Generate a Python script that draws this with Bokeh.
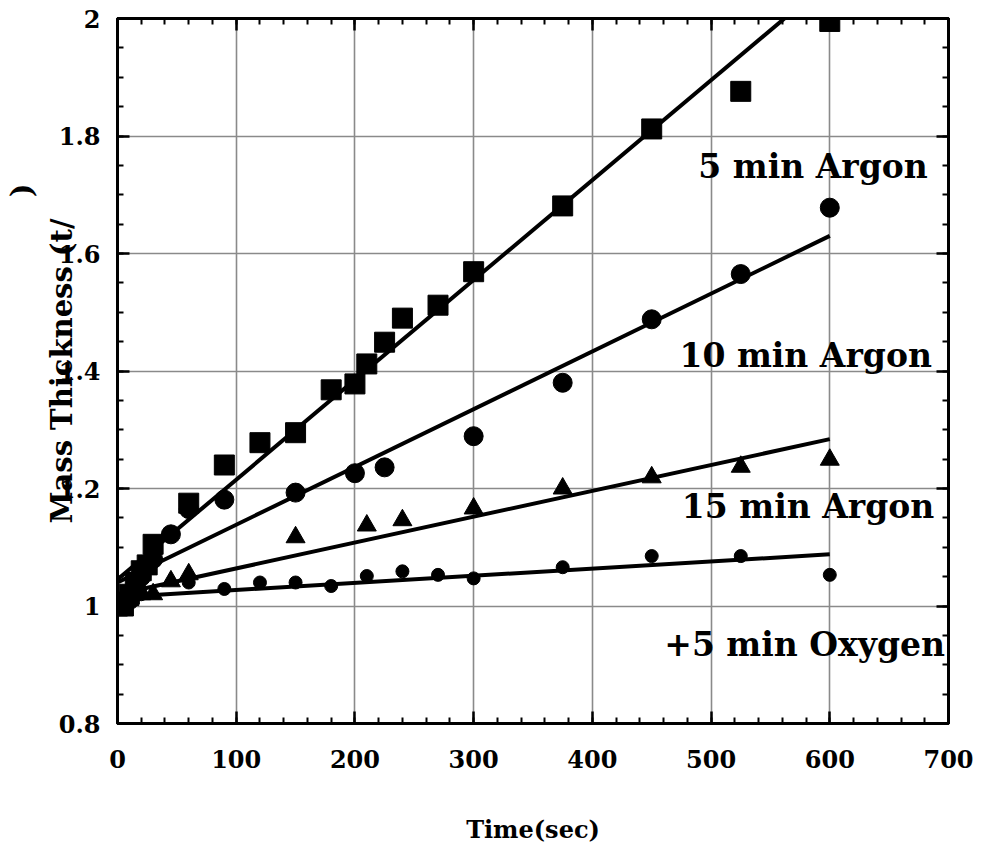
from bokeh.plotting import figure
from bokeh.models import (Range1d, LinearAxis, SingleIntervalTicker, Label, Title,
                          CustomJSTickFormatter)
from bokeh.embed import file_html
from bokeh.resources import INLINE

# ---------------- data ----------------
ar5_x = [0, 5, 10, 15, 20, 25, 30, 60, 90, 120, 150, 180, 200, 210, 225, 240, 270, 300, 375, 450, 525, 600]
ar5_y = [1.0, 1.0, 1.02, 1.04, 1.06, 1.07, 1.105, 1.175, 1.24, 1.278, 1.295, 1.368, 1.378, 1.412, 1.449,
         1.49, 1.512, 1.569, 1.681, 1.812, 1.876, 1.995]

ar10_x = [0, 10, 15, 20, 30, 45, 60, 90, 150, 200, 225, 300, 375, 450, 525, 600]
ar10_y = [1.0, 1.01, 1.03, 1.05, 1.08, 1.122, 1.165, 1.181, 1.193, 1.226, 1.236, 1.289, 1.38, 1.488, 1.565, 1.678]

ar15_x = [0, 10, 20, 30, 45, 60, 150, 210, 240, 300, 375, 450, 525, 600]
ar15_y = [1.0, 1.01, 1.02, 1.02, 1.042, 1.054, 1.117, 1.137, 1.146, 1.166, 1.2, 1.219, 1.237, 1.249]

ox_x = [0, 10, 20, 60, 90, 120, 150, 180, 210, 240, 270, 300, 375, 450, 525, 600]
ox_y = [1.0, 1.01, 1.02, 1.04, 1.029, 1.04, 1.04, 1.034, 1.051, 1.059, 1.053, 1.047, 1.066, 1.085, 1.085, 1.053]

# straight fit lines: end points
fit_x = [0, 600]
fit_ar5 = [1.045, 2.065]
fit_ar10 = [1.04, 1.63]
fit_ar15 = [1.02, 1.284]
fit_ox = [1.015, 1.088]

labels = ["5 min Argon", "10 min Argon", "15 min Argon", "+5 min Oxygen"]
label_x = [682.5, 686, 688, 697]
label_y = [1.729, 1.408, 1.151, 0.915]

x_title = "Time(sec)"
y_title = "Mass Thickness (t/"
y_title_close = ")"

FONT = "DejaVu Serif"

p = figure(width=975, height=846, output_backend="svg", toolbar_location=None,
           x_range=Range1d(0, 700), y_range=Range1d(0.8, 2.0),
           min_border_left=117, min_border_right=27, min_border_top=18, min_border_bottom=121,
           background_fill_color="white", border_fill_color="white")
p.outline_line_color = "black"
p.outline_line_width = 3

xt = SingleIntervalTicker(interval=100, num_minor_ticks=5)
yt = SingleIntervalTicker(interval=0.2, num_minor_ticks=4)
fmt = CustomJSTickFormatter(code="return String(Number(tick.toFixed(2)));")

p.xaxis.ticker = xt
p.yaxis.ticker = yt
p.yaxis.formatter = fmt

for ax in [p.xaxis[0], p.yaxis[0]]:
    ax.axis_line_width = 3
    ax.major_tick_in = 12
    ax.major_tick_out = 0
    ax.minor_tick_in = 6
    ax.minor_tick_out = 0
    ax.major_tick_line_width = 2.5
    ax.minor_tick_line_width = 2
    ax.major_label_text_font = FONT
    ax.major_label_text_font_style = "bold"
    ax.major_label_text_font_size = "24px"
    ax.major_label_text_color = "black"

p.xaxis.major_label_standoff = 26
p.yaxis.major_label_standoff = 17

p.xaxis.axis_label = x_title
p.xaxis.axis_label_text_font = FONT
p.xaxis.axis_label_text_font_style = "bold"
p.xaxis.axis_label_text_font_size = "24px"
p.xaxis.axis_label_text_color = "black"
p.xaxis.axis_label_standoff = 44

# y title drawn over the tick labels, as in the original
p.yaxis.axis_label = y_title
p.yaxis.axis_label_text_font = FONT
p.yaxis.axis_label_text_font_style = "bold"
p.yaxis.axis_label_text_font_size = "29px"
p.yaxis.axis_label_text_color = "black"
p.yaxis.axis_label_standoff = -23

for loc, tick in [("above", xt), ("right", yt)]:
    ax = LinearAxis(ticker=tick)
    ax.axis_line_width = 3
    ax.major_tick_in = 12
    ax.major_tick_out = 0
    ax.minor_tick_in = 6
    ax.minor_tick_out = 0
    ax.major_tick_line_width = 2.5
    ax.minor_tick_line_width = 2
    ax.major_label_text_font_size = "4px"
    ax.major_label_text_color = None
    ax.major_label_standoff = 0
    p.add_layout(ax, loc)

# the raised closing parenthesis of the y title
p.add_layout(Title(text=y_title_close, align="right", offset=165, standoff=5,
                   text_font=FONT, text_font_style="bold", text_font_size="29px",
                   text_color="black"), "left")

p.xgrid.ticker = xt
p.ygrid.ticker = yt
p.grid.grid_line_color = "#8a8a8a"
p.grid.grid_line_width = 1.6

# fit lines
for fy in [fit_ar5, fit_ar10, fit_ar15, fit_ox]:
    p.line(fit_x, fy, line_color="black", line_width=4)

# markers
p.scatter(ar5_x, ar5_y, marker="square", size=20, color="black")
p.scatter(ar10_x, ar10_y, marker="circle", size=19, color="black")
p.scatter(ar15_x, ar15_y, marker="triangle", size=19, color="black")
p.scatter(ox_x, ox_y, marker="circle", size=13, color="black")

for t, lx, ly in zip(labels, label_x, label_y):
    p.add_layout(Label(x=lx, y=ly, y_offset=11, text=t, text_align="right",
                       text_baseline="alphabetic",
                       text_font=FONT, text_font_style="bold", text_font_size="33px",
                       text_color="black"))

open("out.html", "w").write(file_html(p, INLINE))
